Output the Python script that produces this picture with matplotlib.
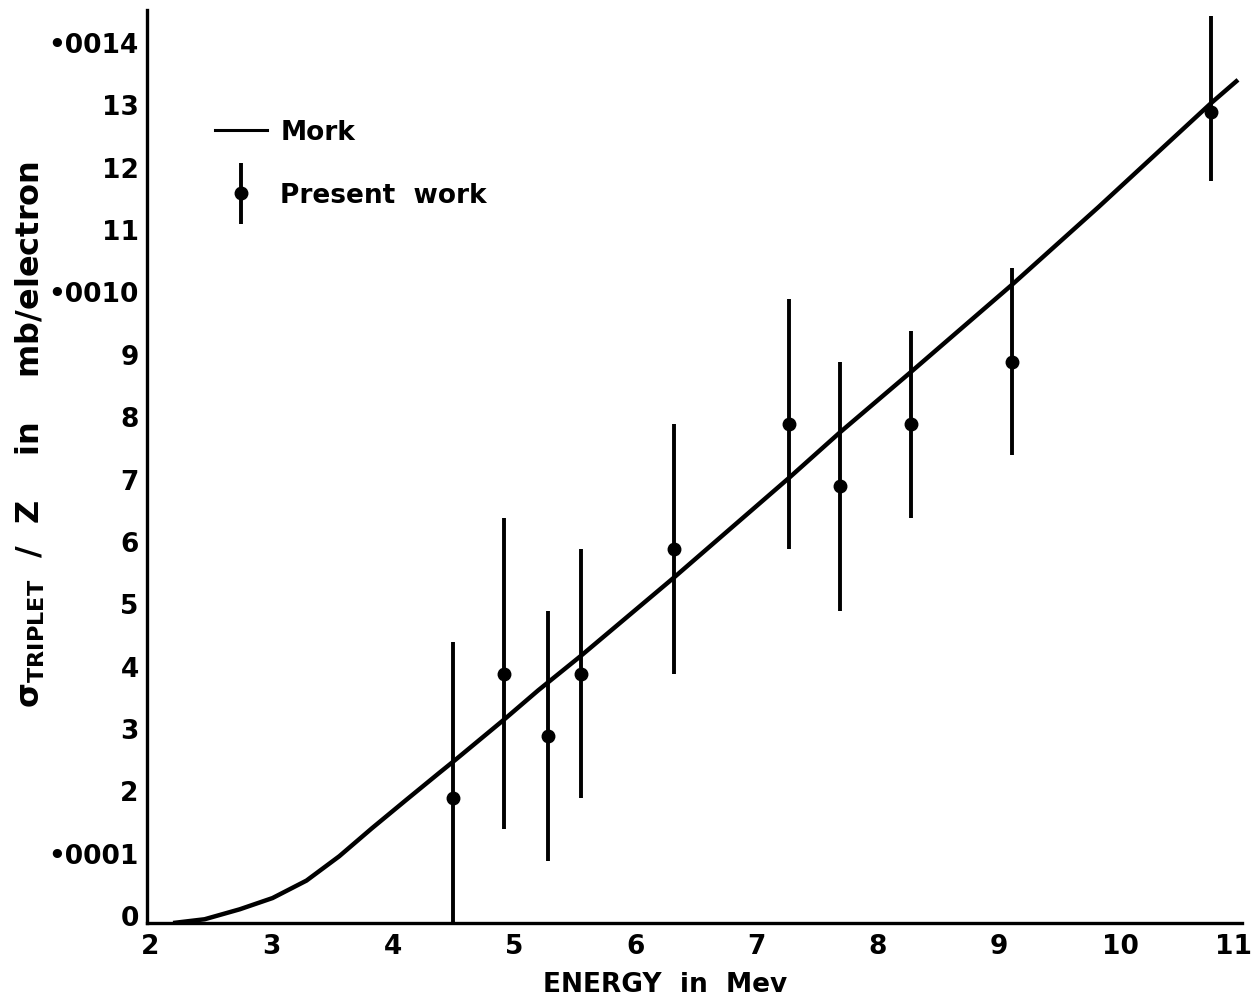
import matplotlib
matplotlib.use("Agg")
import matplotlib.pyplot as plt
from matplotlib.lines import Line2D
from matplotlib.legend_handler import HandlerErrorbar
from matplotlib.transforms import ScaledTranslation
import numpy as np

plt.rcParams["font.family"] = ["DejaVu Sans"]
plt.rcParams["font.weight"] = "bold"
plt.rcParams["mathtext.default"] = "bf"

# Theoretical curve (Mork), cross-section per electron in units of 1e-4 mb
curve_energy = [2.19, 2.45, 2.74, 3.01, 3.29, 3.56, 3.83, 4.11, 4.38, 4.52,
                4.93, 5.20, 5.55, 6.32, 7.27, 7.69, 8.27, 9.11, 9.82, 10.75,
                10.97]
curve_sigma = [0.0, 0.06, 0.22, 0.40, 0.68, 1.07, 1.52, 1.97, 2.40, 2.62,
               3.28, 3.73, 4.28, 5.54, 7.14, 7.87, 8.83, 10.24, 11.48, 13.15,
               13.52]

# Measured points (present work), units of 1e-4 mb
meas_energy = [4.50, 4.92, 5.28, 5.55, 6.32, 7.27, 7.69, 8.27, 9.11, 10.75]
meas_sigma = [2.0, 4.0, 3.0, 4.0, 6.0, 8.0, 7.0, 8.0, 9.0, 13.0]
err_low = [2.0, 2.5, 2.0, 2.0, 2.0, 2.0, 2.0, 1.5, 1.5, 1.1]
err_high = [2.5, 2.5, 2.0, 2.0, 2.0, 2.0, 2.0, 1.5, 1.5, 1.55]

x_ticks = [2, 3, 4, 5, 6, 7, 8, 9, 10, 11]
y_ticks = list(range(0, 15))
y_tick_labels = ["0", "•0001", "2", "3", "4", "5", "6", "7", "8", "9",
                 "•0010", "11", "12", "13", "•0014"]

scale = 1e-4

fig = plt.figure(figsize=(12.51, 10.0), dpi=100)
ax = fig.add_axes([0.1175, 0.077, 0.875, 0.913])

ax.plot(curve_energy, np.array(curve_sigma) * scale, color="black", lw=3.2,
        solid_capstyle="butt", solid_joinstyle="round")
eb = ax.errorbar(meas_energy, np.array(meas_sigma) * scale,
                 yerr=[np.array(err_low) * scale, np.array(err_high) * scale],
                 fmt="o", color="black", ms=9, elinewidth=2.8, capsize=0)

ax.set_xlim(1.975, 10.97)
ax.set_ylim(0, 14.64 * scale)
ax.set_xticks(x_ticks)
ax.set_xticklabels([str(v) for v in x_ticks])
ax.set_yticks([v * scale for v in y_ticks])
ax.set_yticklabels(y_tick_labels)
ax.tick_params(length=0, labelsize=19, pad=6)
ax.tick_params(axis="x", pad=8)

# hand-lettered labels sit a little above their grid values
for lbl in ax.get_yticklabels():
    lbl.set_transform(lbl.get_transform() +
                      ScaledTranslation(0, 5 / 72, fig.dpi_scale_trans))
last = ax.get_xticklabels()[-1]
last.set_transform(last.get_transform() +
                   ScaledTranslation(-6 / 72, 0, fig.dpi_scale_trans))

for side in ("top", "right"):
    ax.spines[side].set_visible(False)
for side in ("left", "bottom"):
    ax.spines[side].set_linewidth(2.4)

ax.set_xlabel("ENERGY  in  Mev", fontsize=19, fontweight="bold")
ax.xaxis.set_label_coords(0.473, -0.054)
ax.set_ylabel("σ$_{TRIPLET}$  /  Z    in    mb/electron", fontsize=23,
              fontweight="bold")
ax.yaxis.set_label_coords(-0.091, 0.535)

handles = [Line2D([], [], color="black", lw=2.2), eb]
leg = ax.legend(handles, ["Mork", "Present  work"], loc="upper left",
                bbox_to_anchor=(0.040, 0.906), frameon=False, fontsize=19,
                handlelength=2.0, labelspacing=1.4, handletextpad=0.5,
                handler_map={eb: HandlerErrorbar(yerr_size=1.15)})

fig.savefig("out.png", dpi=100, facecolor="white")
